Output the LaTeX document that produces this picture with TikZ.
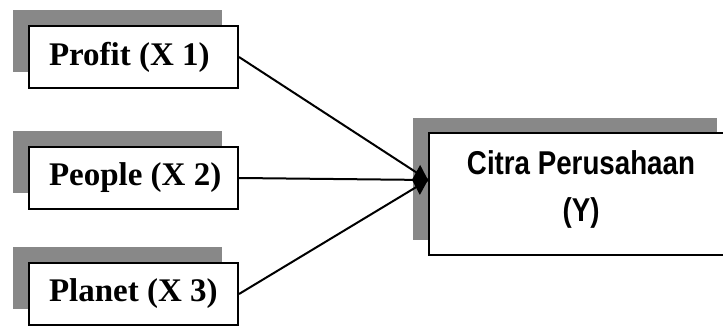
\documentclass[tikz,border=0pt]{standalone}
\usepackage{fontspec}
\setmainfont{Liberation Serif}
\newfontfamily\narrowsans[FakeStretch=0.84]{Liberation Sans}
\usetikzlibrary{arrows.meta,shadows}
\definecolor{shadegray}{RGB}{136,136,136}
\tikzset{
  varbox/.style={draw=black, line width=2pt, fill=white, rectangle,
    minimum width=209pt, minimum height=62pt, inner xsep=20pt,
    font=\bfseries\fontsize{33}{38}\selectfont,
    general shadow={fill=shadegray, shadow xshift=-16pt, shadow yshift=16pt}},
  resultbox/.style={draw=black, line width=2pt, fill=white, rectangle,
    minimum width=304pt, minimum height=122pt,
    general shadow={fill=shadegray, shadow xshift=-16pt, shadow yshift=15pt}},
  resulttext/.style={align=center, inner sep=0pt,
    font=\narrowsans\bfseries\fontsize{33}{47}\selectfont},
  link/.style={draw=black, line width=2pt},
}
\newcommand{\boxline}[1]{\makebox[169pt][l]{#1}}
\begin{document}
\begin{tikzpicture}[x=1pt, y=-1pt]
  \useasboundingbox (0,0) rectangle (723,326);
  \clip (0,0) rectangle (723,326);

  % independent variables
  \node[varbox] (x1) at (133.5,57)  {\boxline{Profit (X 1)}};
  \node[varbox] (x2) at (133.5,178) {\boxline{People (X 2)}};
  \node[varbox] (x3) at (133.5,294) {\boxline{Planet (X 3)}};

  % dependent variable
  \node[resultbox] (y) at (581,194) {};
  \node[resulttext] (ylabel) at (581,189) {Citra Perusahaan\\(Y)};

  % common entry point of the arrows on the left side of Y
  \coordinate (hub) at ([yshift=14pt]y.west);

  \draw[link] (x1.east) -- (hub);
  \draw[link] (x3.east) -- (hub);
  \draw[link, -{Diamond[length=16pt, width=30pt]}] (x2.east) -- (hub);
\end{tikzpicture}
\end{document}
